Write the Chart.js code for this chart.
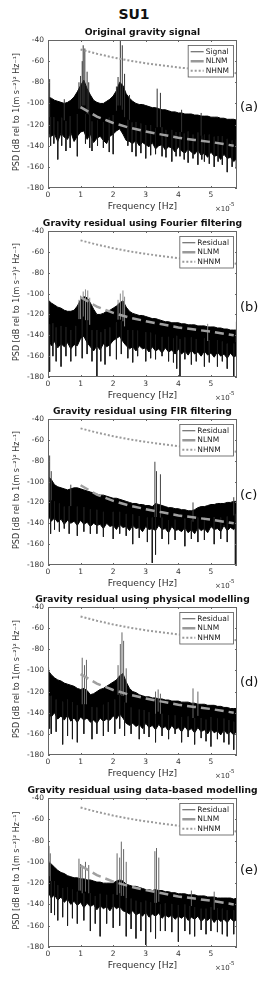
<!DOCTYPE html>
<html lang="en">
<head>
<meta charset="UTF-8">
<title>SU1</title>
<script src="https://cdn.jsdelivr.net/npm/chart.js"></script>
<style>
    body { margin: 0; background: #fff; width: 268px; height: 981px; position: relative; overflow: hidden; font-family: "DejaVu Sans", sans-serif; }
    #main-title { position: absolute; top: 6px; left: 0; width: 268px; text-align: center; font-weight: bold; font-size: 14px; color: #111; }
    canvas { position: absolute; left: 0; }
    .tag { position: absolute; left: 240px; font-size: 13px; color: #111; line-height: 16px; }
</style>
</head>
<body>
<div id="main-title">SU1</div>
<div id="panels"></div>

<script>
// frequency axis (x 1e-5 Hz), shared by all envelopes
const freq = [0,0.1,0.2,0.3,0.4,0.5,0.6,0.7,0.8,0.9,1.0,1.1,1.2,1.3,1.4,1.5,1.6,1.7,1.8,1.9,
    2.0,2.1,2.2,2.3,2.4,2.5,2.6,2.7,2.8,2.9,3.0,3.1,3.2,3.3,3.4,3.5,3.6,3.7,3.8,3.9,
    4.0,4.1,4.2,4.3,4.4,4.5,4.6,4.7,4.8,4.9,5.0,5.1,5.2,5.3,5.4,5.5,5.6,5.7,5.8];

// (a) original signal
const upperA = [-94,-95,-97,-98,-99,-100,-99,-97,-94,-89,-83,-78,-86,-92,-97,-99,-100,-100,-98,-96,
    -93,-88,-80,-83,-91,-95,-98,-100,-101,-101,-102,-103,-104,-104,-105,-106,-106,-107,-108,-108,
    -109,-109,-110,-110,-110,-111,-111,-112,-112,-112,-113,-113,-113,-114,-114,-115,-115,-115,-116];
const lowerA = [-126,-131,-129,-136,-128,-132,-134,-127,-136,-131,-127,-126,-134,-129,-137,-133,-131,-135,-138,-131,
    -129,-126,-124,-129,-135,-136,-138,-135,-140,-137,-139,-141,-137,-143,-140,-139,-144,-141,-142,-146,
    -141,-145,-147,-143,-146,-148,-144,-149,-147,-151,-146,-150,-149,-153,-148,-152,-151,-155,-152];
const peakXA = [0.05,0.5,0.95,1.0,1.05,1.08,1.13,1.2,1.25,2.1,2.15,2.22,2.28,2.35,2.5,3.35,3.45,4.1,4.7];
const peakYA = [-77,-96,-80,-74,-60,-45,-48,-70,-80,-84,-75,-40,-45,-72,-92,-86,-90,-106,-109];
const dipXA = [0.03,0.08,0.18,0.3,0.42,0.55,0.68,0.9,1.15,1.28,1.35,1.52,1.7,1.88,2.0,2.45,2.58,2.7,2.85,3.0,
    3.15,3.3,3.5,3.62,3.8,3.93,4.05,4.18,4.3,4.45,4.6,4.72,4.8,4.95,5.1,5.22,5.35,5.5,5.65,5.78];
const dipYA = [-132,-140,-138,-153,-140,-145,-142,-150,-138,-142,-145,-140,-142,-146,-148,-140,-146,-150,-147,-152,
    -149,-148,-150,-151,-155,-150,-150,-153,-156,-152,-158,-153,-155,-157,-160,-155,-158,-165,-160,-162];

// (b) Fourier filtering residual
const upperB = [-106,-109,-111,-113,-114,-116,-117,-117,-116,-112,-106,-103,-104,-109,-115,-120,-120,-119,-117,-116,
    -114,-112,-109,-107,-113,-117,-119,-120,-121,-121,-122,-123,-124,-124,-125,-126,-127,-127,-128,-128,
    -128,-129,-129,-130,-130,-130,-131,-131,-131,-132,-132,-132,-133,-133,-134,-134,-135,-135,-135];
const lowerB = [-141,-150,-146,-152,-148,-151,-147,-153,-149,-150,-143,-141,-147,-151,-155,-150,-154,-148,-151,-149,
    -145,-143,-141,-146,-150,-153,-151,-155,-150,-153,-152,-156,-151,-155,-153,-157,-152,-156,-154,-158,
    -153,-158,-155,-159,-154,-158,-156,-160,-155,-159,-157,-161,-156,-160,-158,-162,-157,-161,-158];
const peakXB = [0.02,0.95,1.0,1.08,1.15,1.22,1.28,2.15,2.22,2.3,2.35,4.9,5.78];
const peakYB = [-104,-106,-102,-98,-96,-97,-104,-106,-100,-97,-103,-129,-127];
const dipXB = [0.05,0.15,0.25,0.4,0.55,0.7,0.85,1.05,1.2,1.35,1.5,1.62,1.75,1.9,2.1,2.25,2.45,2.6,2.75,3.0,
    3.15,3.3,3.5,3.7,3.85,3.95,4.05,4.2,4.4,4.55,4.8,4.95,5.2,5.35,5.5,5.7];
const dipYB = [-175,-160,-165,-170,-160,-165,-160,-162,-158,-165,-180,-165,-168,-160,-163,-158,-162,-166,-160,-165,
    -162,-163,-160,-165,-166,-172,-180,-163,-168,-165,-170,-166,-170,-165,-172,-180];

// (c) FIR filtering residual
const upperC = [-95,-98,-103,-105,-106,-107,-108,-107,-106,-106,-107,-108,-109,-110,-111,-112,-113,-113,-114,-115,
    -116,-116,-117,-118,-119,-120,-121,-121,-122,-122,-123,-123,-124,-121,-122,-123,-124,-125,-125,-126,
    -126,-127,-127,-128,-128,-127,-125,-124,-124,-123,-122,-122,-121,-121,-121,-120,-120,-119,-119];
const lowerC = [-132,-138,-135,-139,-136,-141,-137,-140,-138,-142,-137,-141,-139,-143,-140,-142,-141,-145,-140,-143,
    -142,-146,-141,-144,-143,-147,-142,-145,-144,-148,-143,-146,-145,-147,-142,-146,-145,-149,-143,-147,
    -146,-148,-144,-149,-146,-150,-144,-147,-145,-149,-143,-146,-145,-148,-142,-147,-144,-146,-143];
const peakXC = [0.05,0.1,0.7,3.28,3.33,3.45,4.45,5.7];
const peakYC = [-75,-90,-103,-81,-90,-93,-120,-115];
const dipXC = [0.08,0.2,0.35,0.5,0.65,0.9,1.1,1.3,1.5,1.7,2.0,2.2,2.4,2.6,2.8,3.05,3.2,3.3,3.5,3.7,
    3.9,4.2,4.4,4.6,4.8,5.1,5.3,5.5,5.75];
const dipYC = [-150,-146,-148,-145,-150,-152,-148,-150,-150,-153,-155,-150,-152,-160,-154,-158,-178,-170,-155,-160,
    -156,-162,-155,-158,-156,-160,-155,-158,-180];

// (d) physical modelling residual
const upperD = [-100,-104,-107,-109,-110,-112,-113,-114,-115,-117,-118,-117,-119,-123,-122,-120,-118,-117,-115,-113,
    -111,-109,-105,-103,-111,-117,-120,-121,-123,-124,-125,-125,-126,-126,-127,-127,-128,-128,-129,-129,
    -129,-130,-130,-130,-131,-131,-132,-132,-132,-133,-133,-133,-134,-134,-135,-135,-136,-136,-136];
const lowerD = [-138,-144,-140,-146,-143,-147,-142,-148,-145,-149,-144,-147,-145,-149,-147,-150,-145,-148,-146,-147,
    -143,-146,-141,-145,-150,-152,-150,-153,-151,-155,-150,-154,-152,-156,-151,-155,-153,-157,-152,-156,
    -154,-158,-153,-157,-155,-159,-154,-158,-156,-160,-155,-159,-157,-161,-156,-160,-158,-161,-157];
const peakXD = [0.02,1.05,1.12,1.18,2.15,2.22,2.27,2.32,2.4,3.3,3.38,3.45,4.45,4.6];
const peakYD = [-97,-88,-95,-90,-95,-75,-64,-72,-98,-120,-118,-122,-117,-120];
const dipXD = [0.05,0.1,0.25,0.45,0.6,0.75,0.9,1.1,1.35,1.5,1.7,1.85,2.05,2.2,2.35,2.55,2.8,2.95,3.1,3.3,
    3.5,3.7,3.9,4.1,4.3,4.5,4.7,4.85,5.0,5.2,5.4,5.55,5.7];
const dipYD = [-155,-160,-158,-170,-162,-165,-168,-160,-165,-160,-162,-158,-160,-155,-162,-160,-165,-160,-163,-168,
    -162,-165,-160,-168,-163,-170,-164,-167,-172,-165,-168,-170,-175];

// (e) data-based modelling residual
const upperE = [-99,-102,-105,-108,-110,-111,-113,-114,-115,-115,-116,-116,-117,-117,-118,-119,-119,-120,-120,-120,
    -120,-118,-117,-118,-121,-122,-123,-123,-124,-125,-126,-126,-127,-126,-127,-127,-128,-128,-129,-129,
    -130,-130,-130,-131,-131,-131,-132,-132,-132,-133,-133,-133,-134,-134,-134,-134,-134,-135,-134];
const lowerE = [-128,-134,-131,-136,-133,-138,-135,-140,-137,-141,-138,-143,-139,-142,-140,-145,-141,-144,-142,-146,
    -141,-144,-142,-146,-147,-149,-146,-150,-148,-151,-147,-152,-149,-151,-148,-153,-150,-152,-150,-154,
    -151,-153,-150,-155,-152,-154,-151,-156,-153,-155,-152,-157,-153,-156,-154,-157,-153,-156,-154];
const peakXE = [0.03,0.07,0.95,1.0,1.05,1.15,1.25,2.12,2.2,2.25,2.32,2.4,3.28,3.33,3.4,4.4,5.1];
const peakYE = [-85,-92,-97,-102,-104,-100,-103,-92,-96,-81,-88,-100,-90,-87,-96,-127,-128];
const dipXE = [0.1,0.2,0.3,0.45,0.6,0.75,0.9,1.1,1.3,1.45,1.6,1.8,2.0,2.2,2.4,2.55,2.7,2.85,3.0,3.15,
    3.3,3.45,3.6,3.8,4.0,4.2,4.35,4.5,4.7,4.85,5.0,5.2,5.35,5.5,5.7];
const dipYE = [-148,-150,-155,-152,-160,-153,-158,-155,-165,-158,-170,-158,-162,-160,-170,-163,-172,-165,-178,-166,
    -172,-165,-165,-166,-175,-165,-168,-170,-164,-168,-165,-166,-168,-170,-168];

// noise models
const nlnmFreq = [1,1.5,2,2.5,3,3.5,4,4.5,5,5.5,5.7];
const nlnmPsd = [-103.5,-112.5,-118.5,-123,-126.5,-129.5,-132.5,-134.5,-136.5,-139,-140];
const nhnmFreq = [1,1.5,2,2.5,3,3.5,4,4.5,5,5.5,5.8];
const nhnmPsd = [-49,-53,-56.5,-59.5,-62,-64,-66,-67.5,-69,-70.5,-71.5];

const titles = ['Original gravity signal', 'Gravity residual using Fourier filtering',
    'Gravity residual using FIR filtering', 'Gravity residual using physical modelling',
    'Gravity residual using data-based modelling'];
const tags = ['(a)', '(b)', '(c)', '(d)', '(e)'];
const seriesNames = ['Signal', 'Residual', 'Residual', 'Residual', 'Residual'];

const panels = [
    { upper: upperA, lower: lowerA, px: peakXA, py: peakYA, dx: dipXA, dy: dipYA, top: 40, h: 148, tagY: 99, peakColor: '#333' },
    { upper: upperB, lower: lowerB, px: peakXB, py: peakYB, dx: dipXB, dy: dipYB, top: 231, h: 146, tagY: 299, peakColor: '#888' },
    { upper: upperC, lower: lowerC, px: peakXC, py: peakYC, dx: dipXC, dy: dipYC, top: 419, h: 146, tagY: 487, peakColor: '#444' },
    { upper: upperD, lower: lowerD, px: peakXD, py: peakYD, dx: dipXD, dy: dipYD, top: 607, h: 148, tagY: 674, peakColor: '#666' },
    { upper: upperE, lower: lowerE, px: peakXE, py: peakYE, dx: dipXE, dy: dipYE, top: 798, h: 149, tagY: 862, peakColor: '#666' }
];

function pts(xs, ys) { return xs.map((x, i) => ({ x: x, y: ys[i] })); }

// vertical spikes, starting inside the dense band
function spikes(xs, ys, upper, lower) {
    const out = [];
    xs.forEach((x, i) => {
        const k = Math.min(Math.round(x * 10), freq.length - 1);
        const base = (upper[k] + lower[k]) / 2;
        out.push({ x: x, y: base }, { x: x, y: ys[i] }, { x: x, y: null });
    });
    return out;
}

const decor = {
    id: 'decor',
    afterDraw(chart, args, o) {
        const ctx = chart.ctx, a = chart.chartArea;
        const sx = chart.scales.x, sy = chart.scales.y;
        ctx.save();
        ctx.strokeStyle = '#666';
        ctx.lineWidth = 1;
        ctx.strokeRect(a.left + 0.5, a.top + 0.5, a.width - 1, a.height - 1);
        ctx.beginPath();
        sx.ticks.forEach(t => {
            const p = Math.round(sx.getPixelForValue(t.value)) + 0.5;
            ctx.moveTo(p, a.bottom); ctx.lineTo(p, a.bottom - 2);
            ctx.moveTo(p, a.top); ctx.lineTo(p, a.top + 2);
        });
        sy.ticks.forEach(t => {
            const p = Math.round(sy.getPixelForValue(t.value)) + 0.5;
            ctx.moveTo(a.left, p); ctx.lineTo(a.left + 2, p);
            ctx.moveTo(a.right, p); ctx.lineTo(a.right - 2, p);
        });
        ctx.stroke();

        const cx = (a.left + a.right) / 2;
        ctx.fillStyle = '#111';
        ctx.textAlign = 'center';
        ctx.textBaseline = 'middle';
        ctx.font = 'bold 9.2px "DejaVu Sans"';
        ctx.fillText(o.title, cx, a.top - 7.5);

        ctx.fillStyle = '#333';
        ctx.font = '9.2px "DejaVu Sans"';
        ctx.fillText('Frequency [Hz]', cx, a.bottom + 19);

        ctx.save();
        ctx.translate(17, (a.top + a.bottom) / 2 - 2);
        ctx.rotate(-Math.PI / 2);
        ctx.font = '8px "DejaVu Sans"';
        ctx.fillText('PSD [dB rel to 1(m s\u207B\u00B2)\u00B2 Hz\u207B\u00B9]', 0, 0);
        ctx.restore();

        // x10^-5 multiplier
        ctx.textAlign = 'left';
        ctx.font = '7px "DejaVu Sans"';
        const mx = a.right - 22;
        ctx.fillText('\u00D710', mx, a.bottom + 21);
        ctx.font = '5.5px "DejaVu Sans"';
        ctx.fillText('-5', mx + ctx.measureText('\u00D7').width + 9.5, a.bottom + 17);

        // legend box
        ctx.font = '7.5px "DejaVu Sans"';
        const names = [o.name, 'NLNM', 'NHNM'];
        const w = Math.max(...names.map(n => ctx.measureText(n).width)) + 22;
        const rowH = 9.5;
        const bx = a.right - 4 - w, by = a.top + 5;
        ctx.fillStyle = '#fff';
        ctx.fillRect(bx, by, w, rowH * 3 + 3);
        ctx.strokeStyle = '#555';
        ctx.lineWidth = 0.8;
        ctx.strokeRect(bx + 0.5, by + 0.5, w, rowH * 3 + 3);
        const styles = [
            { c: '#222', lw: 0.8, d: [] },
            { c: '#999', lw: 2.5, d: [] },
            { c: '#999', lw: 2, d: [2, 2] }
        ];
        names.forEach((n, i) => {
            const y = by + 2 + rowH * i + rowH / 2;
            ctx.beginPath();
            ctx.strokeStyle = styles[i].c;
            ctx.lineWidth = styles[i].lw;
            ctx.setLineDash(styles[i].d);
            ctx.moveTo(bx + 3, y);
            ctx.lineTo(bx + 16, y);
            ctx.stroke();
            ctx.setLineDash([]);
            ctx.fillStyle = '#222';
            ctx.textBaseline = 'middle';
            ctx.fillText(n, bx + 18, y);
        });
        ctx.restore();
    }
};

Chart.defaults.font.family = '"DejaVu Sans", sans-serif';

const holder = document.getElementById('panels');
panels.forEach((p, i) => {
    const cv = document.createElement('canvas');
    cv.width = 268;
    cv.height = p.h + 46;
    cv.style.top = (p.top - 16) + 'px';
    holder.appendChild(cv);

    const tag = document.createElement('div');
    tag.className = 'tag';
    tag.style.top = p.tagY + 'px';
    tag.textContent = tags[i];
    holder.appendChild(tag);

    new Chart(cv.getContext('2d'), {
        type: 'line',
        data: {
            datasets: [
                { label: 'NLNM', data: pts(nlnmFreq, nlnmPsd), borderColor: '#a0a0a0', borderWidth: 2.5,
                  borderDash: [9, 5], order: 0 },
                { label: 'NHNM', data: pts(nhnmFreq, nhnmPsd), borderColor: '#9a9a9a', borderWidth: 2,
                  borderDash: [2, 2], order: 0 },
                { label: 'peaks', data: spikes(p.px, p.py, p.upper, p.lower), borderColor: p.peakColor,
                  borderWidth: 1, spanGaps: false, order: 1 },
                { label: 'dips', data: spikes(p.dx, p.dy, p.upper, p.lower), borderColor: '#1a1a1a',
                  borderWidth: 1, spanGaps: false, order: 1 },
                { label: seriesNames[i], data: pts(freq, p.upper), borderColor: '#000', borderWidth: 1,
                  backgroundColor: '#000', fill: '+1', order: 2 },
                { label: 'lower', data: pts(freq, p.lower), borderColor: '#000', borderWidth: 1, order: 2 }
            ]
        },
        options: {
            responsive: false,
            animation: false,
            devicePixelRatio: 1,
            events: [],
            elements: { point: { radius: 0 }, line: { tension: 0 } },
            layout: { padding: { top: 16, right: 31, left: 0, bottom: 0 } },
            plugins: {
                legend: { display: false },
                tooltip: { enabled: false },
                decor: { title: titles[i], name: seriesNames[i] }
            },
            scales: {
                x: {
                    type: 'linear', min: 0, max: 5.8,
                    border: { display: false },
                    grid: { display: false, drawTicks: false },
                    ticks: { stepSize: 1, includeBounds: false, padding: 3, color: '#333', font: { size: 7.5 }, maxRotation: 0 },
                    afterFit(s) { s.height = 30; }
                },
                y: {
                    min: -180, max: -40,
                    border: { display: false },
                    grid: { display: false, drawTicks: false },
                    ticks: { stepSize: 20, padding: 4, color: '#333', font: { size: 7.5 } },
                    afterFit(s) { s.width = 48; }
                }
            }
        },
        plugins: [decor]
    });
});
</script>
</body>
</html>
